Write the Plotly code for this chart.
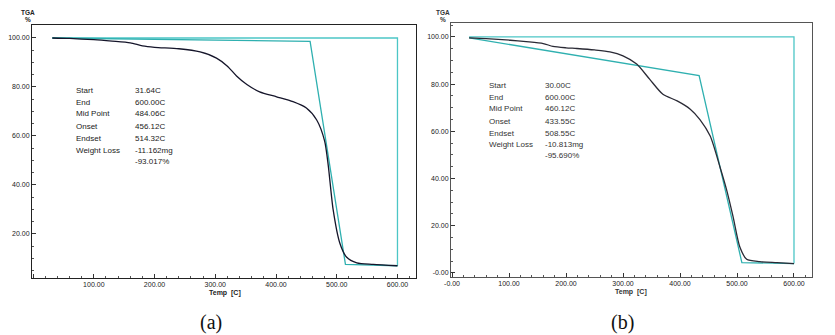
import plotly.graph_objects as go

W, H = 835, 335

# ---------------- data ----------------
# Panel (a)
temp_a = [31.64, 60, 100, 130, 160, 180, 200, 240, 275, 302, 320, 335, 352, 373, 401, 428, 450, 467, 480, 486, 494, 505, 516, 533, 560, 600]
wt_a = [100.0, 99.8, 99.3, 98.7, 98.0, 96.8, 96.2, 95.6, 94.3, 91.8, 88.5, 84.5, 81.0, 78.0, 76.0, 74.0, 71.4, 66.5, 58.0, 48.0, 30.0, 16.3, 10.6, 8.2, 7.6, 7.0]
tan_temp_a = [31.64, 456.12, 514.32, 600.0]
tan_wt_a = [100.0, 98.6, 7.6, 7.0]
box_temp_a = [31.64, 600.0, 600.0]
box_wt_a = [100.0, 100.0, 7.0]
labels_a = ["Start", "End", "Mid Point", "Onset", "Endset", "Weight Loss", ""]
values_a = ["31.64C", "600.00C", "484.06C", "456.12C", "514.32C", "-11.162mg", "-93.017%"]

# Panel (b)
temp_b = [30, 60, 102, 130, 160, 177, 200, 219, 250, 277, 300, 324, 347, 370, 395, 418, 435, 453, 470, 482, 493, 505, 517, 540, 570, 600]
wt_b = [99.6, 99.3, 98.6, 98.0, 97.2, 96.0, 95.4, 95.1, 94.5, 93.7, 92.0, 88.5, 82.0, 75.7, 72.9, 69.4, 65.0, 58.0, 45.0, 35.0, 24.0, 11.0, 5.8, 4.8, 4.4, 4.0]
tan_temp_b = [30.0, 433.55, 508.55, 600.0]
tan_wt_b = [99.6, 83.6, 4.4, 4.0]
box_temp_b = [30.0, 600.0, 600.0]
box_wt_b = [100.0, 100.0, 4.0]
labels_b = ["Start", "End", "Mid Point", "Onset", "Endset", "Weight Loss", ""]
values_b = ["30.00C", "600.00C", "460.12C", "433.55C", "508.55C", "-10.813mg", "-95.690%"]

xtick_vals = [0, 100, 200, 300, 400, 500, 600]
xtick_text_a = ["", "100.00", "200.00", "300.00", "400.00", "500.00", "600.00"]
xtick_text_b = ["-0.00", "100.00", "200.00", "300.00", "400.00", "500.00", "600.00"]
ytick_vals = [0, 20, 40, 60, 80, 100]
ytick_text_a = ["", "20.00", "40.00", "60.00", "80.00", "100.00"]
ytick_text_b = ["-0.00", "20.00", "40.00", "60.00", "80.00", "100.00"]

# ---------------- figure ----------------
fig = go.Figure()

def px_x(p):
    return p / W

def px_y(p):
    return 1 - p / H

CYAN_BOX = "#4cc6c6"
CYAN_TAN = "#2fb0b0"

# panel a traces
fig.add_trace(go.Scatter(x=box_temp_a, y=box_wt_a, mode="lines", line=dict(color=CYAN_BOX, width=1.3), xaxis="x", yaxis="y", hoverinfo="skip"))
fig.add_trace(go.Scatter(x=tan_temp_a, y=tan_wt_a, mode="lines", line=dict(color=CYAN_TAN, width=1.3), xaxis="x", yaxis="y", hoverinfo="skip"))
fig.add_trace(go.Scatter(x=temp_a, y=wt_a, mode="lines", line=dict(color="#15152a", width=1.3, shape="spline", smoothing=0.7), xaxis="x", yaxis="y"))

# panel b traces
fig.add_trace(go.Scatter(x=box_temp_b, y=box_wt_b, mode="lines", line=dict(color=CYAN_BOX, width=1.3), xaxis="x2", yaxis="y2", hoverinfo="skip"))
fig.add_trace(go.Scatter(x=tan_temp_b, y=tan_wt_b, mode="lines", line=dict(color=CYAN_TAN, width=1.3), xaxis="x2", yaxis="y2", hoverinfo="skip"))
fig.add_trace(go.Scatter(x=temp_b, y=wt_b, mode="lines", line=dict(color="#2a2a35", width=1.3, shape="spline", smoothing=0.7), xaxis="x2", yaxis="y2"))

tickfont = dict(family="Liberation Sans, Arial", size=7, color="#222")

def xaxis(domain, rng, ticktext, anchor, linecolor):
    return dict(domain=domain, range=rng, anchor=anchor, tickmode="array", tickvals=xtick_vals,
                ticktext=ticktext, ticks="inside", ticklen=4, tickcolor="#333", tickwidth=1,
                showgrid=False, zeroline=False, showline=True, linecolor=linecolor, linewidth=1,
                mirror=True, tickfont=tickfont, automargin=False,
                minor=dict(tickmode="linear", tick0=0, dtick=20, ticks="inside", ticklen=2, tickcolor="#555"))

def yaxis(domain, rng, ticktext, anchor, linecolor):
    return dict(domain=domain, range=rng, anchor=anchor, tickmode="array", tickvals=ytick_vals,
                ticktext=ticktext, ticks="inside", ticklen=4, tickcolor="#333", tickwidth=1,
                showgrid=False, zeroline=False, showline=True, linecolor=linecolor, linewidth=1,
                mirror=True, tickfont=tickfont, automargin=False,
                minor=dict(tickmode="linear", tick0=0, dtick=5, ticks="inside", ticklen=2, tickcolor="#555"))

fig.update_layout(
    width=W, height=H,
    margin=dict(l=0, r=0, t=0, b=0, autoexpand=False),
    paper_bgcolor="white", plot_bgcolor="white",
    showlegend=False,
    xaxis=xaxis([px_x(32), px_x(416)], [-1.8, 630.5], xtick_text_a, "y", "#222"),
    yaxis=yaxis([px_y(278), px_y(25)], [2.0, 105.3], ytick_text_a, "x", "#222"),
    xaxis2=xaxis([px_x(451), px_x(812)], [-1.8, 631.6], xtick_text_b, "y2", "#555"),
    yaxis2=yaxis([px_y(277), px_y(23)], [-1.7, 105.9], ytick_text_b, "x2", "#555"),
)

ann = []
def add_text(px, py, text, font, xanchor="center"):
    ann.append(dict(x=px_x(px), y=px_y(py), xref="paper", yref="paper", text=text, showarrow=False,
                    font=font, xanchor=xanchor, yanchor="middle"))

# axis titles
add_text(28, 13, "<b>TGA</b>", dict(family="Liberation Sans, Arial", size=6.5, color="#222"))
add_text(28, 20, "<b>%</b>", dict(family="Liberation Sans, Arial", size=6.5, color="#222"))
add_text(443, 13, "<b>TGA</b>", dict(family="Liberation Sans, Arial", size=6.5, color="#333"))
add_text(443, 20, "<b>%</b>", dict(family="Liberation Sans, Arial", size=6.5, color="#333"))
add_text(225, 293, "<b>Temp  [C]</b>", dict(family="Liberation Sans, Arial", size=7, color="#222"))
add_text(631, 292, "<b>Temp  [C]</b>", dict(family="Liberation Sans, Arial", size=7, color="#333"))

# info blocks
rows_a = [90, 102, 114, 126, 138, 150, 161]
for i, (lab, val) in enumerate(zip(labels_a, values_a)):
    if lab:
        add_text(74, rows_a[i], lab, dict(family="Liberation Sans, Arial", size=8, color="#222"), "left")
    add_text(133, rows_a[i], val, dict(family="Liberation Sans, Arial", size=8, color="#222"), "left")

rows_b = [85, 97, 109, 121, 133, 145, 156]
for i, (lab, val) in enumerate(zip(labels_b, values_b)):
    if lab:
        add_text(487, rows_b[i], lab, dict(family="Liberation Sans, Arial", size=8, color="#333"), "left")
    add_text(543, rows_b[i], val, dict(family="Liberation Sans, Arial", size=8, color="#333"), "left")

# panel labels
add_text(211, 322, "(a)", dict(family="Liberation Serif, Times New Roman", size=20, color="#111"))
add_text(622, 322, "(b)", dict(family="Liberation Serif, Times New Roman", size=20, color="#111"))

fig.update_layout(annotations=ann)

fig.write_html("out.html", config={"displayModeBar": False},
               post_script="document.body.style.margin='0px';document.body.style.padding='0px';")
